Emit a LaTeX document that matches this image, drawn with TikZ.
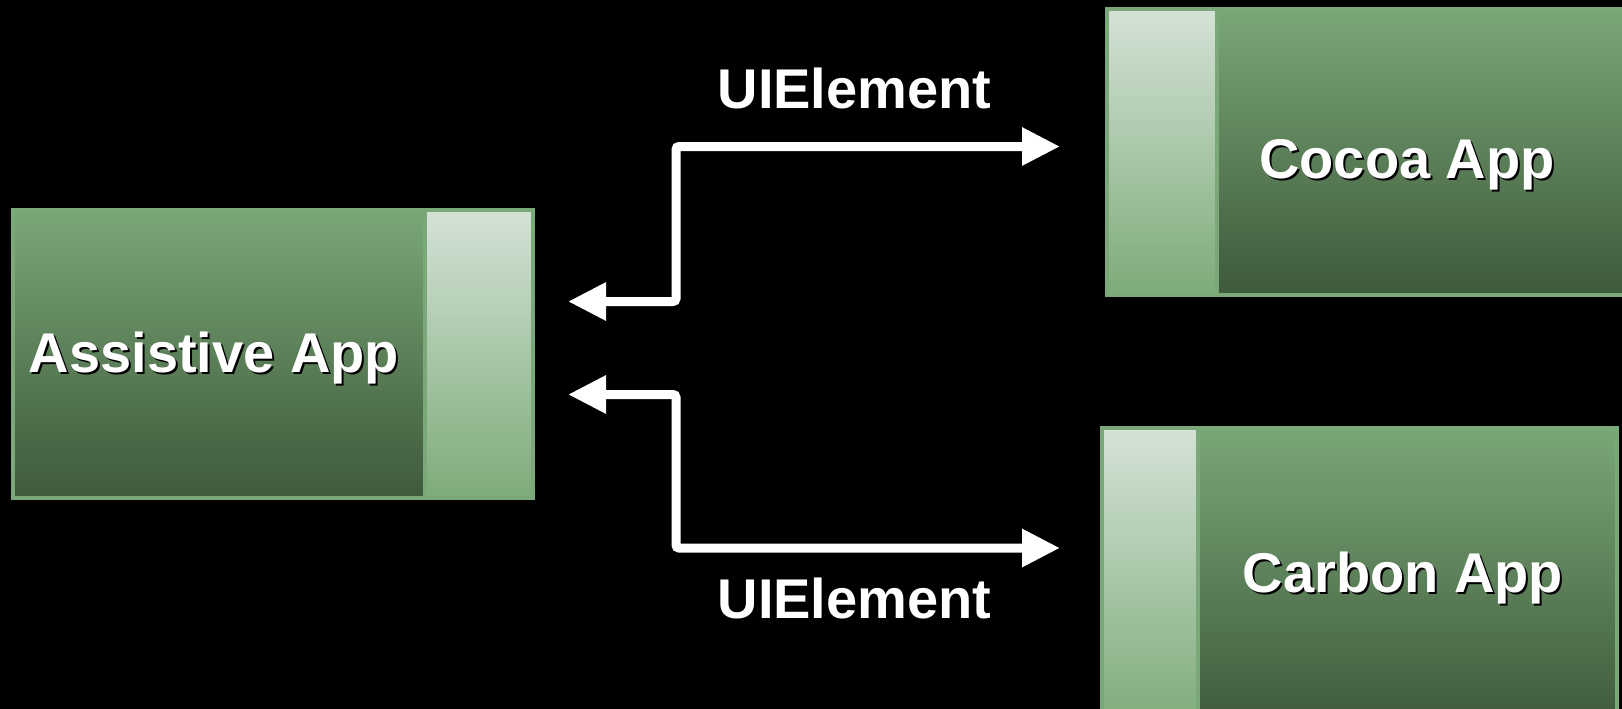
\documentclass[tikz,border=0pt]{standalone}
\usepackage{fontspec}
\setmainfont{Liberation Sans}
\usetikzlibrary{arrows.meta}
\definecolor{boxtop}{RGB}{122,167,120}
\definecolor{boxbot}{RGB}{62,89,59}
\definecolor{sidetop}{RGB}{212,226,214}
\definecolor{sidebot}{RGB}{126,171,122}
\definecolor{boxedge}{RGB}{122,168,120}
\begin{document}
\begin{tikzpicture}[x=1pt,y=-1pt,
  mainbox/.style={draw=boxedge, line width=4pt, top color=boxtop, bottom color=boxbot, anchor=north west, inner sep=0pt, minimum height=286pt},
  sidebox/.style={draw=boxedge, line width=4pt, top color=sidetop, bottom color=sidebot, anchor=north west, inner sep=0pt, minimum height=286pt},
  apptext/.style={text=white, font=\fontsize{56}{66}\selectfont\bfseries, anchor=base, inner sep=0pt},
  appshadow/.style={text=black, font=\fontsize{56}{66}\selectfont\bfseries, anchor=base, inner sep=0pt},
  link/.style={draw=white, line width=9pt, rounded corners=3pt, {Triangle[width=36pt,length=38pt]}-{Triangle[width=36pt,length=38pt]}}
]
\path[use as bounding box] (0,0) rectangle (1622,709);
\fill[black] (0,0) rectangle (1622,709);

% Assistive App
\node[mainbox, minimum width=412pt, minimum height=288pt] (assist) at (11,208) {};
\node[sidebox, minimum width=108pt, minimum height=288pt] (assistside) at (423,208) {};
\node[appshadow] (assistS) at (216,374) {Assistive App};
\node[apptext] (assistT) at (214,372) {Assistive App};

% Cocoa App
\node[sidebox, minimum width=110pt] (cocoaside) at (1105,7) {};
\node[mainbox, minimum width=412pt] (cocoa) at (1215,7) {};
\node[appshadow] (cocoaS) at (1409,180) {Cocoa App};
\node[apptext] (cocoaT) at (1407,178) {Cocoa App};

% Carbon App
\node[sidebox, minimum width=96pt, minimum height=300pt] (carbonside) at (1100,426) {};
\node[mainbox, minimum width=419pt, minimum height=300pt] (carbon) at (1196,426) {};
\node[appshadow] (carbonS) at (1405,594) {Carbon App};
\node[apptext] (carbonT) at (1403,592) {Carbon App};

% connectors
\coordinate (a1) at (568,301.5);
\coordinate (k1) at (676,301.5);
\coordinate (k2) at (676,146.5);
\coordinate (b1) at (1060,146.5);
\draw[link] (a1) -- (k1) -- (k2) -- (b1);

\coordinate (a2) at (568,394.5);
\coordinate (k3) at (676,394.5);
\coordinate (k4) at (676,548);
\coordinate (b2) at (1060,548);
\draw[link] (a2) -- (k3) -- (k4) -- (b2);

\node[apptext] (ui1) at (854.5,108.5) {UIElement};
\node[apptext] (ui2) at (854.5,618.5) {UIElement};
\end{tikzpicture}
\end{document}
